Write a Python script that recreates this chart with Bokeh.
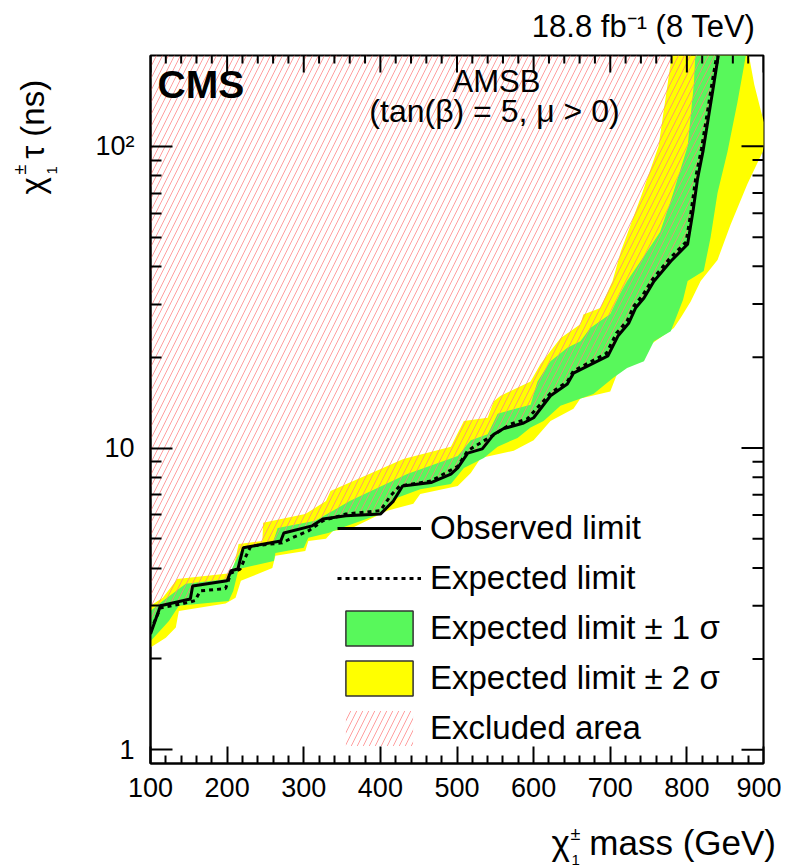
from math import pi
from bokeh.plotting import figure
from bokeh.models import FixedTicker, Label, Legend, LegendItem, Range1d
from bokeh.embed import file_html
from bokeh.resources import INLINE

FONT = "Liberation Sans"
GREEN = "#58f85b"
YELLOW = "#ffff00"
NB = "\u00a0"  # non-breaking space (kept by SVG text)

# ---------------- data (chargino mass in GeV, lifetime tau in ns) -------------
obs_mass = [100, 113, 152, 155, 200, 205, 214, 221, 270, 274, 311, 325, 355, 400,
            417, 429, 466, 492, 501, 514, 533, 548, 561, 587, 600, 622, 644, 652,
            697, 710, 724, 733, 744, 757, 779, 801, 808, 814, 821, 828, 835, 841]
obs_tau = [2.42, 3.0, 3.16, 3.49, 3.63, 3.92, 3.97, 4.67, 4.92, 5.23, 5.52, 5.82,
           5.96, 6.04, 6.67, 7.48, 7.68, 8.2, 8.59, 9.62, 9.93, 11.1, 11.6, 12.1,
           12.6, 14.9, 16.3, 17.7, 20.2, 23.5, 25.9, 29.1, 31.4, 35.7, 41.6, 47.4,
           60.9, 78.3, 96.2, 124, 160, 200]

exp_mass = [100, 113, 150, 158, 165, 198, 205, 217, 226, 231, 272, 285, 306, 325,
            355, 400, 413, 425, 466, 501, 514, 544, 570, 592, 622, 644, 652, 695,
            708, 722, 731, 742, 755, 777, 799, 806, 812, 819, 826, 833, 839]
exp_tau = [2.48, 2.95, 3.08, 3.12, 3.36, 3.42, 3.85, 3.97, 4.46, 4.73, 4.85, 5.04,
           5.31, 5.74, 6.04, 6.2, 6.93, 7.48, 7.77, 8.7, 9.8, 10.9, 12.0, 12.5,
           15.2, 16.6, 18.0, 20.6, 24.0, 26.4, 29.6, 32.0, 36.2, 42.3, 48.2, 62,
           80, 98, 126, 163, 200]

# +-1 sigma band: upper (long-lifetime side) and lower edges
s1_up_mass = [100, 116, 146, 200, 213, 220, 259, 266, 315, 338, 360, 435, 501, 518,
              540, 553, 596, 605, 622, 644, 661, 674, 700, 713, 722, 746, 765, 779,
              801, 809, 811]
s1_up_tau = [2.88, 3.11, 3.55, 3.68, 4.32, 4.67, 4.81, 5.43, 5.74, 6.19, 6.67, 8.2,
             9.4, 10.6, 11.1, 13.0, 13.9, 16.6, 19.4, 21.5, 22.6, 25.0, 27.8, 32.5,
             35.8, 44, 52, 66, 100, 160, 200]
s1_lo_mass = [100, 124, 137, 202, 208, 215, 261, 263, 300, 306, 332, 355, 400, 422,
              452, 492, 509, 535, 553, 579, 596, 613, 635, 678, 704, 722, 744, 757,
              779, 795, 801, 822, 831, 840, 853, 866, 877]
s1_lo_tau = [2.29, 2.67, 3.0, 3.11, 3.36, 3.97, 4.22, 4.49, 4.67, 5.04, 5.23, 5.5,
             6.04, 6.84, 7.3, 7.6, 8.59, 9.27, 10.1, 10.8, 11.7, 12.3, 13.8, 15.1,
             17.1, 18.4, 19.4, 22.6, 24.4, 31, 35.8, 38.6, 50, 70, 96, 140, 200]

# +-2 sigma band
s2_up_mass = [100, 116, 135, 207, 215, 246, 247, 302, 329, 335, 430, 492, 509, 540,
              548, 557, 596, 609, 635, 661, 665, 687, 703, 714, 740, 763, 779, 781]
s2_up_tau = [3.0, 3.19, 3.68, 3.85, 4.81, 4.92, 5.65, 6.04, 6.67, 7.2, 9.2, 10.1,
             12.3, 12.6, 14.3, 14.9, 16.6, 19.0, 23.1, 25.7, 27.7, 29.1, 35.8, 45,
             68, 100, 190, 200]
s2_lo_mass = [100, 120, 133, 137, 198, 211, 218, 259, 263, 302, 306, 329, 338, 361,
              409, 443, 452, 501, 518, 531, 574, 600, 622, 652, 661, 700, 713, 731,
              749, 783, 792, 805, 818, 840, 857, 879, 899, 904, 897, 888, 881]
s2_lo_tau = [2.18, 2.35, 2.54, 2.88, 3.05, 3.19, 3.63, 4.0, 4.39, 4.56, 4.92, 5.0,
             5.31, 5.4, 6.2, 6.53, 7.04, 7.48, 8.27, 9.27, 9.8, 10.6, 12.3, 13.5,
             14.6, 15.4, 18.7, 19.4, 21.7, 25.0, 27.0, 30.6, 35.8, 42, 55, 75, 96,
             112, 130, 160, 200]

x_major = [100, 200, 300, 400, 500, 600, 700, 800, 900]
y_major = [1, 10, 100]
y_labels = {1: "1", 10: "10", 100: "10\u00b2"}
X_MIN, X_MAX = 100, 900
Y_MIN, Y_MAX = 0.9, 200

# ---------------- figure --------------------------------------------------------
p = figure(x_range=Range1d(X_MIN, X_MAX), y_range=Range1d(Y_MIN, Y_MAX),
           y_axis_type="log", frame_width=613, frame_height=708,
           min_border_left=150, min_border_top=55, min_border_right=16,
           min_border_bottom=105, output_backend="svg", toolbar_location=None,
           background_fill_color="white", border_fill_color="white")
p.grid.visible = False
p.outline_line_color = "black"
p.outline_line_width = 2

x_minor = [m for m in range(X_MIN, X_MAX + 1, 20) if m % 100]
y_minor = [k * d for d in (1, 10) for k in range(2, 10)]
xt = FixedTicker(ticks=x_major, minor_ticks=x_minor)
yt = FixedTicker(ticks=y_major, minor_ticks=y_minor)


def style(ax, major_in, minor_in):
    ax.axis_line_width = 2
    ax.major_tick_line_width = 2
    ax.minor_tick_line_width = 2
    ax.major_tick_in = major_in
    ax.major_tick_out = 0
    ax.minor_tick_in = minor_in
    ax.minor_tick_out = 0
    ax.major_label_text_font = FONT
    ax.major_label_text_color = "black"
    ax.major_label_text_font_size = "27px"


xb = p.xaxis[0]
xb.ticker = xt
style(xb, 17, 8)
xb.major_label_standoff = 14
yl = p.yaxis[0]
yl.ticker = yt
yl.major_label_overrides = y_labels
style(yl, 22, 11)
yl.major_label_standoff = 16

# ---------------- bands, excluded area, limits ---------------------------------
band2 = p.patch(s2_up_mass + s2_lo_mass[::-1], s2_up_tau + s2_lo_tau[::-1],
                fill_color=YELLOW, line_color=None)
band1 = p.patch(s1_up_mass + s1_lo_mass[::-1], s1_up_tau + s1_lo_tau[::-1],
                fill_color=GREEN, line_color=None)
excl = p.patch([X_MIN] + obs_mass, [Y_MAX] + obs_tau, fill_alpha=0,
               line_color=None, hatch_pattern="/", hatch_color="#ff7f7f",
               hatch_alpha=0.75, hatch_scale=12, hatch_weight=1)
exp_r = p.line(exp_mass, exp_tau, line_color="black", line_width=3,
               line_dash="4 4")
obs_r = p.line(obs_mass, obs_tau, line_color="black", line_width=3)

# mirrored tick marks on the top and right frame edges (half of each dash is clipped)
p.scatter(x_major, [Y_MAX] * len(x_major), marker="dash", size=34, angle=pi / 2,
          line_color="black", line_width=2)
p.scatter(x_minor, [Y_MAX] * len(x_minor), marker="dash", size=16, angle=pi / 2,
          line_color="black", line_width=2)
p.scatter([X_MAX] * len(y_major), y_major, marker="dash", size=44,
          line_color="black", line_width=2)
p.scatter([X_MAX] * len(y_minor), y_minor, marker="dash", size=22,
          line_color="black", line_width=2)

# legend swatches with an outline (single-point patches, nothing visible in the plot)
leg1 = p.patch(s1_up_mass[:1], s1_up_tau[:1], fill_color=GREEN,
               line_color="#333333", line_width=1.5)
leg2 = p.patch(s2_up_mass[:1], s2_up_tau[:1], fill_color=YELLOW,
               line_color="#333333", line_width=1.5)

legend = Legend(items=[
    LegendItem(label="Observed limit", renderers=[obs_r]),
    LegendItem(label="Expected limit", renderers=[exp_r]),
    LegendItem(label="Expected limit \u00b1 1 \u03c3", renderers=[leg1]),
    LegendItem(label="Expected limit \u00b1 2 \u03c3", renderers=[leg2]),
    LegendItem(label="Excluded area", renderers=[excl]),
], location=(187, 13), glyph_width=84, glyph_height=44, label_standoff=9,
    spacing=6, padding=0, margin=0, border_line_alpha=0,
    background_fill_alpha=0, label_text_font=FONT,
    label_text_font_size="33px", label_text_color="black")
p.add_layout(legend)

BASE_SHIFT = 0.37  # measured drop of the rendered baseline, in em


# ---------------- texts (page-pixel placement of the baseline start) ------------
def lab(text, px, py, size, align="left", bold=False, angle=0.0, side="center"):
    if angle:
        px -= BASE_SHIFT * size
    else:
        py -= BASE_SHIFT * size
    lbl = Label(x=X_MIN, y=Y_MAX, x_offset=px - 150, y_offset=55 - py,
                text=text, text_font=FONT, text_font_size=f"{size}px",
                text_align=align, text_baseline="alphabetic",
                text_font_style="bold" if bold else "normal",
                text_color="black", angle=angle)
    p.add_layout(lbl, side)


lab("CMS", 157, 98, 39, bold=True)
lab("AMSB", 496, 92, 31, align="center")
lab("(tan(\u03b2) = 5, \u03bc > 0)", 494, 122, 32, align="center")

# luminosity / energy (side panels are not clipped to the frame)
lab("18.8 fb\u207b\u00b9 (8 TeV)", 755, 37, 31, align="right", side="above")

# y-axis title (rotated)
lab("\u03c7" + NB * 2 + "\u03c4" + NB + "(ns)", 44, 194, 33, angle=pi / 2,
    side="left")
lab("\u00b1", 26, 174, 18, angle=pi / 2, side="left")
lab("1", 57, 174, 15, angle=pi / 2, side="left")

# x-axis title
lab("\u03c7" + NB * 2 + "mass (GeV)", 551, 855, 35, side="below")
lab("\u00b1", 570, 840, 18, side="right")
lab("1", 571, 865, 15, side="right")

open("out.html", "w").write(file_html(p, INLINE))
